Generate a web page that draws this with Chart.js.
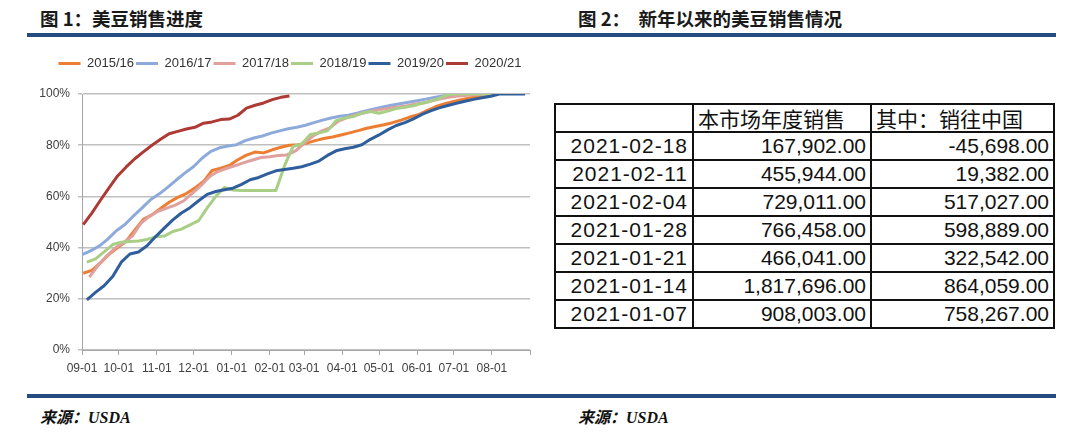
<!DOCTYPE html>
<html lang="zh-CN">
<head>
<meta charset="utf-8">
<title>美豆销售进度</title>
<script src="https://cdn.jsdelivr.net/npm/chart.js@4.4.1/dist/chart.umd.min.js"></script>
<style>
    html, body { margin: 0; padding: 0; background: #fff; }
    body { width: 1080px; height: 433px; position: relative; overflow: hidden; font-family: "Liberation Sans", "Noto Sans CJK SC", sans-serif; }
    .fig-title { position: absolute; top: 8px; font: bold 18.5px/20px "Noto Sans CJK SC", sans-serif; color: #1a1a1a; white-space: pre; }
    .rule { position: absolute; left: 27px; width: 1029px; height: 4px; background: #244c80; }
    .source { position: absolute; top: 409px; font: italic bold 16px/18px "Liberation Serif", "Noto Sans CJK SC", serif; color: #111; }
    #progress { position: absolute; left: 30px; top: 55px; width: 524px; height: 330px; }
    #weekly { position: absolute; left: 554px; top: 103px; border-collapse: collapse; table-layout: fixed; width: 499px; }
    #weekly td { border: 2px solid #111; height: 26px; padding: 0 4px; font-size: 21px; line-height: 26px; color: #111; white-space: nowrap; overflow: hidden; }
    #weekly td.num { text-align: right; }
    #weekly td.date { text-align: right; letter-spacing: 1px; }
    #weekly td.head { text-align: left; font-family: "Noto Sans CJK SC", sans-serif; }
</style>
</head>
<body>
<div class="fig-title" style="left:40px">图 1：美豆销售进度</div>
<div class="fig-title" style="left:578px">图 2：  新年以来的美豆销售情况</div>
<div class="rule" style="top:33px"></div>

<canvas id="progress" width="524" height="330"></canvas>

<table id="weekly">
    <colgroup><col style="width:138px"><col style="width:178px"><col style="width:183px"></colgroup>
    <thead></thead>
    <tbody></tbody>
</table>

<div class="rule" style="top:394px"></div>
<div class="source" style="left:40px">来源：USDA</div>
<div class="source" style="left:578px">来源：USDA</div>

<script>
// Sales progress, % of marketing-year total, one value per week
const seasons = ['2015/16', '2016/17', '2017/18', '2018/19', '2019/20', '2020/21'];
// day (since 09-01) of each season's first weekly reading
const startDays = [1, 0, 6, 4, 4, 1];

const sales1516 = [30.0, 31.1, 34.0, 37.4, 40.0, 42.5, 46.8, 51.0, 52.8, 55.3, 57.7, 59.6, 61.1, 63.3, 65.8, 70.1, 71.0, 72.1, 74.3, 76.1,
    77.3, 77.0, 78.2, 79.2, 80.0, 80.2, 80.8, 81.8, 82.6, 83.2, 84.0, 84.8, 85.7, 86.6, 87.3, 88.0, 88.8, 89.8, 91.0, 91.9,
    93.5, 95.0, 96.1, 97.0, 97.8, 98.4, 99.0, 99.4, 100];
const sales1617 = [37.3, 38.7, 40.6, 43.3, 46.6, 49.0, 52.4, 55.5, 58.8, 61.0, 63.6, 66.5, 69.2, 71.7, 75.0, 77.6, 79.0, 79.7, 80.2, 81.8,
    82.8, 83.6, 84.7, 85.6, 86.4, 87.0, 87.8, 88.8, 89.8, 90.6, 91.3, 91.7, 92.5, 93.4, 94.2, 94.9, 95.6, 96.2, 96.8, 97.4,
    98.0, 98.6, 99.2, 99.7, 100, 100, 100, 100, 100];
const sales1718 = [28.5, 33.0, 36.7, 39.8, 42.0, 44.5, 49.5, 52.3, 54.2, 55.4, 56.6, 58.3, 61.3, 64.3, 67.8, 69.8, 71.0, 72.0, 73.2, 74.2,
    75.2, 75.5, 76.0, 76.2, 77.8, 80.7, 83.5, 85.5, 86.8, 89.4, 90.8, 91.8, 92.7, 93.4, 94.0, 94.5, 94.9, 95.4, 96.1, 96.6,
    97.4, 98.2, 98.8, 99.2, 99.5, 99.7, 100, 100];
const sales1819 = [34.3, 35.6, 38.3, 41.2, 42.1, 42.4, 42.6, 43.2, 44.2, 44.5, 46.3, 47.2, 48.9, 50.5, 55.5, 60.0, 63.5, 62.5, 62.3, 62.3,
    62.3, 62.3, 62.3, 72.0, 79.5, 80.5, 84.2, 84.8, 85.6, 89.6, 90.6, 91.2, 92.5, 93.2, 92.5, 93.3, 94.3, 94.8, 95.4, 96.4,
    97.2, 98.3, 99.7, 100, 100, 100, 100, 100];
const sales1920 = [19.6, 22.5, 25.1, 28.7, 34.3, 37.5, 38.3, 40.7, 44.3, 47.6, 50.8, 53.5, 55.6, 58.3, 60.8, 61.9, 62.6, 63.2, 64.7, 66.5,
    67.4, 68.8, 70.0, 70.5, 71.0, 71.6, 72.6, 73.8, 76.0, 77.8, 78.6, 79.2, 80.2, 82.3, 84.0, 86.0, 87.7, 88.8, 90.3, 92.0,
    93.4, 94.6, 95.5, 96.4, 97.2, 97.9, 98.5, 99.1, 100, 100, 100, 100];
const sales2021 = [49.0, 53.5, 58.5, 63.3, 68.0, 71.5, 74.7, 77.4, 80.0, 82.3, 84.5, 85.4, 86.3, 87.0, 88.6, 89.1, 90.0, 90.2, 91.7, 94.5,
    95.6, 96.5, 97.8, 98.7, 99.2];
const seriesValues = [sales1516, sales1617, sales1718, sales1819, sales1920, sales2021];
const seriesColors = ['#ed7d31', '#8eaadb', '#e0a09e', '#a9cf86', '#2f5e9c', '#ad3a34'];

// X axis: month starts, in days since 09-01
const monthStartDays = [0, 30, 61, 91, 122, 153, 181, 212, 242, 273, 303, 334, 365];
const monthLabels = ['09-01', '10-01', '11-01', '12-01', '01-01', '02-01', '03-01', '04-01', '05-01', '06-01', '07-01', '08-01', ''];

// Table: weekly net sales
const tableHeaders = ['', '本市场年度销售', '其中：销往中国'];
const tableDates = ['2021-02-18', '2021-02-11', '2021-02-04', '2021-01-28', '2021-01-21', '2021-01-14', '2021-01-07'];
const marketSales = [167902, 455944, 729011, 766458, 466041, 1817696, 908003];
const chinaSales = [-45698, 19382, 517027, 598889, 322542, 864059, 758267];

document.addEventListener('DOMContentLoaded', function() {
    initTable();
    initChart();
});

function fmt(v) {
    return v.toLocaleString('en-US', { minimumFractionDigits: 2, maximumFractionDigits: 2 });
}

function initTable() {
    const table = document.getElementById('weekly');
    table.querySelector('thead').innerHTML = '<tr>' + tableHeaders.map(h => `<td class="head">${h}</td>`).join('') + '</tr>';
    table.querySelector('tbody').innerHTML = tableDates.map((d, i) => `
        <tr>
            <td class="date">${d}</td>
            <td class="num">${fmt(marketSales[i])}</td>
            <td class="num">${fmt(chinaSales[i])}</td>
        </tr>`).join('');
}

// legend: fixed block height so the plot starts where the original does, nudged right a little
const legendSpacing = {
    id: 'legendSpacing',
    afterInit(chart) {
        const fit = chart.legend.fit;
        chart.legend.fit = function() {
            fit.call(this);
            this.height = 39;
        };
    },
    afterLayout(chart) {
        chart.legend.left += 10;
        chart.legend.right += 10;
    }
};

function initChart() {
    Chart.defaults.font.family = '"Liberation Sans", Arial, sans-serif';
    const ctx = document.getElementById('progress');

    new Chart(ctx, {
        type: 'line',
        data: {
            datasets: seasons.map((name, s) => ({
                label: name,
                data: seriesValues[s].map((v, i) => ({ x: startDays[s] + 7 * i, y: v })),
                borderColor: seriesColors[s],
                backgroundColor: seriesColors[s],
                borderWidth: 3,
                borderJoinStyle: 'round',
                pointRadius: 0,
                tension: 0,
                // later seasons on top, like the original
                order: seasons.length - 1 - s
            }))
        },
        options: {
            responsive: false,
            animation: false,
            devicePixelRatio: 1,
            layout: { padding: { right: 24 } },
            plugins: {
                legend: {
                    position: 'top',
                    labels: {
                        usePointStyle: true,
                        pointStyle: 'line',
                        pointStyleWidth: 22,
                        padding: 2,
                        color: '#333',
                        font: { size: 13 },
                        sort: (a, b) => a.datasetIndex - b.datasetIndex
                    }
                },
                tooltip: { enabled: false }
            },
            scales: {
                x: {
                    type: 'linear',
                    min: 0,
                    max: 365,
                    afterBuildTicks: function(scale) {
                        scale.ticks = monthStartDays.map(v => ({ value: v }));
                    },
                    afterFit: function(scale) { scale.height = 35; },
                    grid: { drawOnChartArea: false, drawTicks: true, tickLength: 5, color: '#a6a6a6' },
                    border: { color: '#a6a6a6' },
                    ticks: {
                        autoSkip: false,
                        maxRotation: 0,
                        padding: 6,
                        color: '#404040',
                        font: { size: 12 },
                        callback: (v, i) => monthLabels[i]
                    }
                },
                y: {
                    min: 0,
                    max: 100,
                    afterFit: function(scale) { scale.width = 52; },
                    grid: { color: '#c0c0c0', lineWidth: 1.5, tickLength: 4 },
                    border: { color: '#a6a6a6' },
                    ticks: {
                        stepSize: 20,
                        padding: 8,
                        color: '#404040',
                        font: { size: 12 },
                        callback: v => v + '%'
                    }
                }
            }
        },
        plugins: [legendSpacing]
    });
}
</script>
</body>
</html>
